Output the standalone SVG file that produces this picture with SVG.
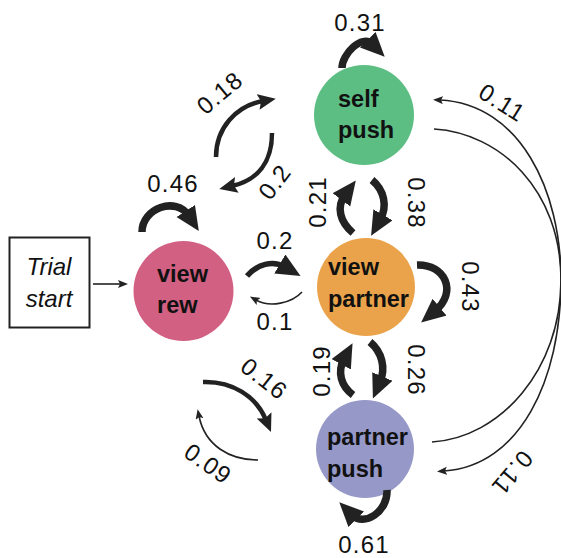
<svg xmlns="http://www.w3.org/2000/svg" width="561" height="558" viewBox="0 0 561 558">
  <style>
    .node-label { font-family: "Liberation Sans", Arial, sans-serif; font-weight: bold; font-size: 23.5px; fill: #111; }
    .edge-label { font-family: "Liberation Sans", Arial, sans-serif; font-size: 24px; letter-spacing: 1.2px; fill: #111; text-anchor: middle; }
    .start-label { font-family: "Liberation Sans", Arial, sans-serif; font-style: italic; font-size: 24px; fill: #111; text-anchor: middle; }
    .heavy { fill: none; stroke: #222; stroke-width: 7.5; marker-end: url(#head-heavy); }
    .medium { fill: none; stroke: #222; stroke-width: 4.5; marker-end: url(#head-medium); }
    .thin { fill: none; stroke: #222; stroke-width: 1.6; marker-end: url(#head-thin); }
  </style>
  <defs>
    <marker id="head-heavy" markerUnits="userSpaceOnUse" markerWidth="26" markerHeight="24" refX="6" refY="11" orient="auto">
      <path d="M0,0 L24,11 L0,22 Z" fill="#222"/>
    </marker>
    <marker id="head-medium" markerUnits="userSpaceOnUse" markerWidth="20" markerHeight="18" refX="5" refY="8" orient="auto">
      <path d="M0,0 L18,8 L0,16 L3,8 Z" fill="#222"/>
    </marker>
    <marker id="head-thin" markerUnits="userSpaceOnUse" markerWidth="12" markerHeight="10" refX="3" refY="4" orient="auto">
      <path d="M0,0 L10,4 L0,8 L2,4 Z" fill="#222"/>
    </marker>
  </defs>

  <!-- start box -->
  <g id="trial-start">
    <rect x="9.5" y="237.5" width="80" height="90" fill="#fff" stroke="#222" stroke-width="2"/>
    <text class="start-label" x="49" y="275">Trial</text>
    <text class="start-label" x="49" y="307">start</text>
  </g>

  <!-- state nodes -->
  <g id="self-push">
    <circle cx="364" cy="115" r="50" fill="#5CBE83"/>
    <text class="node-label" x="338" y="107">self</text>
    <text class="node-label" x="338" y="138">push</text>
  </g>
  <g id="view-rew">
    <circle cx="183.5" cy="291" r="50" fill="#D26082"/>
    <text class="node-label" x="157" y="282">view</text>
    <text class="node-label" x="157" y="313">rew</text>
  </g>
  <g id="view-partner">
    <circle cx="366" cy="287" r="49" fill="#EBA34B"/>
    <text class="node-label" x="328" y="275">view</text>
    <text class="node-label" x="328" y="307">partner</text>
  </g>
  <g id="partner-push">
    <circle cx="365" cy="449" r="49" fill="#9698C8"/>
    <text class="node-label" x="327" y="445">partner</text>
    <text class="node-label" x="327" y="477">push</text>
  </g>

  <!-- transitions -->
  <g id="connectors">
    <path class="thin" d="M93,284 L121,284"/>
    <!-- self loops -->
    <path class="heavy" d="M342,68 C342,54 362,34 372,44"/>
    <path class="heavy" d="M142,232 C142,208 176,196 189,216"/>
    <path class="heavy" d="M417,265 C445,264 458,292 435,311"/>
    <path class="heavy" d="M387,490 C388,512 364,527 352,515"/>
    <!-- view rew <-> self push -->
    <path class="medium" d="M216,157 C216,128 236,106 263,101"/>
    <path class="medium" d="M272,133 C272,162 258,180 232,186"/>
    <!-- view rew <-> view partner -->
    <path class="heavy" style="stroke-width:5.5" d="M247,276 C257,264 273,260 285,267"/>
    <path class="thin" d="M302,292 C292,303 270,308 256,300"/>
    <!-- self push <-> view partner -->
    <path class="heavy" d="M353,233 C340,222 336,207 345,195"/>
    <path class="heavy" d="M372,180 C384,190 388,206 380,220"/>
    <!-- view partner <-> partner push -->
    <path class="heavy" d="M353,395 C341,386 337,372 344,359"/>
    <path class="heavy" d="M370,342 C382,352 386,368 380,382"/>
    <!-- view rew <-> partner push -->
    <path class="medium" d="M203,382 C232,381 256,396 266,420"/>
    <path class="thin" d="M258,460 C230,460 205,446 199,416"/>
    <!-- self push <-> partner push -->
    <path class="thin" d="M434,129 C500,133 561,190 561,280 C561,380 520,466 444,471"/>
    <path class="thin" d="M432,442 C500,438 561,370 561,280 C561,190 520,104 440,100"/>
  </g>

  <!-- transition probabilities -->
  <g id="edge-labels">
    <text class="edge-label" x="360" y="31">0.31</text>
    <text class="edge-label" x="173" y="192">0.46</text>
    <text class="edge-label" transform="translate(220,93) rotate(-40)" y="8">0.18</text>
    <text class="edge-label" transform="translate(275,182) rotate(-53)" y="8">0.2</text>
    <text class="edge-label" x="275" y="249">0.2</text>
    <text class="edge-label" x="275" y="330">0.1</text>
    <text class="edge-label" transform="translate(318,202) rotate(-90)" y="8">0.21</text>
    <text class="edge-label" transform="translate(416,203) rotate(90)" y="8">0.38</text>
    <text class="edge-label" transform="translate(470,287) rotate(90)" y="8">0.43</text>
    <text class="edge-label" transform="translate(322,371) rotate(-90)" y="8">0.19</text>
    <text class="edge-label" transform="translate(416,370) rotate(90)" y="8">0.26</text>
    <text class="edge-label" x="364" y="553">0.61</text>
    <text class="edge-label" transform="translate(264,379) rotate(38)" y="8">0.16</text>
    <text class="edge-label" transform="translate(208,464) rotate(35)" y="8">0.09</text>
    <text class="edge-label" transform="translate(502,103) rotate(32)" y="8">0.11</text>
    <text class="edge-label" transform="translate(512,473) rotate(130)" y="8">0.11</text>
  </g>
</svg>
